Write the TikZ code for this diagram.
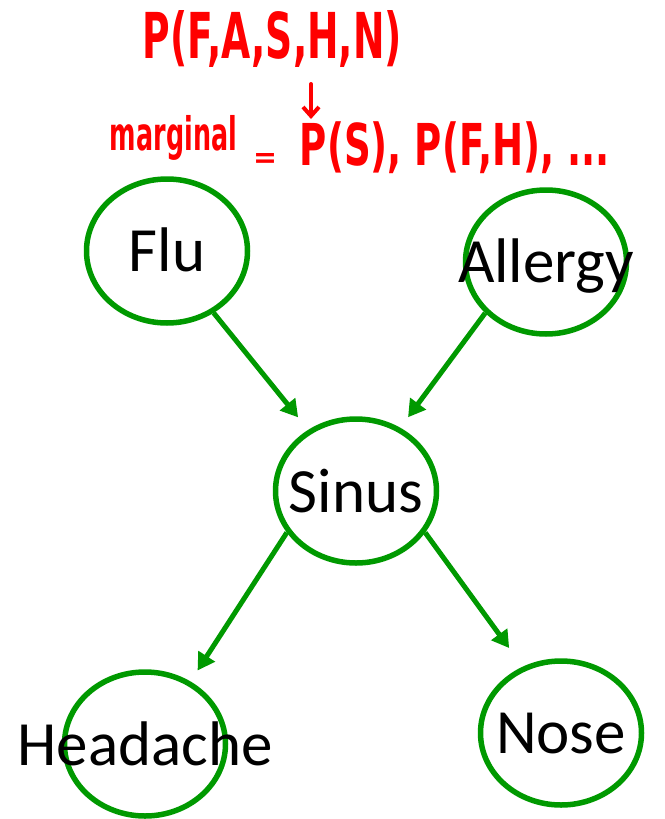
\documentclass[tikz,border=0pt]{standalone}
\usepackage{fontspec}
\setmainfont{Carlito}
\newfontfamily\handfont{DejaVu Sans}
\usetikzlibrary{shapes.geometric,arrows.meta}
\definecolor{netgreen}{RGB}{0,153,0}
\definecolor{inkred}{RGB}{255,0,0}
\begin{document}
\begin{tikzpicture}[x=1pt,y=-1pt,
  var/.style={ellipse,draw=netgreen,line width=5.5pt,minimum width=161pt,minimum height=144pt,inner sep=0pt},
  lbl/.style={anchor=base,inner sep=0pt,font=\fontsize{63}{70}\selectfont},
  arr/.style={draw=netgreen,line width=5pt,-{Triangle[length=17pt,width=19pt]}},
  hand/.style={inner sep=0pt,text=inkred,font=\handfont\bfseries},
  handarr/.style={draw=inkred,line width=4pt,line cap=round,-{Straight Barb[length=9pt,width=16pt,line width=4pt]}}
]
\useasboundingbox (0,0) rectangle (664,819);
% variables
\node[var] (flu) at (167,251) {};
\node[var] (allergy) at (546,262) {};
\node[var] (sinus) at (356,491) {};
\node[var] (headache) at (145,744) {};
\node[var] (nose) at (561,733) {};
\node[lbl] (fluT) at (167,271) {Flu};
\node[lbl] (allergyT) at (546,282) {Allergy};
\node[lbl] (sinusT) at (356,512) {Sinus};
\node[lbl] (headacheT) at (145,765) {Headache};
\node[lbl] (noseT) at (561,753) {Nose};
% edges
\draw[arr,shorten >=16pt] (flu.307.7) -- (sinus.128.6);
\draw[arr,shorten >=13pt] (allergy.220) -- (sinus.55);
\draw[arr,shorten >=13pt] (sinus.211.5) -- (headache.54);
\draw[arr,shorten >=23pt] (sinus.329) -- (nose.120);
% handwritten annotation
\node[hand] (joint) at (272.5,38.5) {\resizebox*{259pt}{57pt}{P(F,A,S,H,N)}};
\coordinate (downA) at (311,84);
\coordinate (downB) at (311,119);
\draw[handarr] (downA) -- (downB);
\node[hand] (marg) at (173.5,138) {\resizebox*{127pt}{45pt}{marginal}};
\node[hand] (approx) at (265,160) {\resizebox*{24pt}{14pt}{=}};
\node[hand] (margs) at (455,148) {\resizebox*{310pt}{52pt}{P(S), P(F,H), ...}};
\end{tikzpicture}
\end{document}
